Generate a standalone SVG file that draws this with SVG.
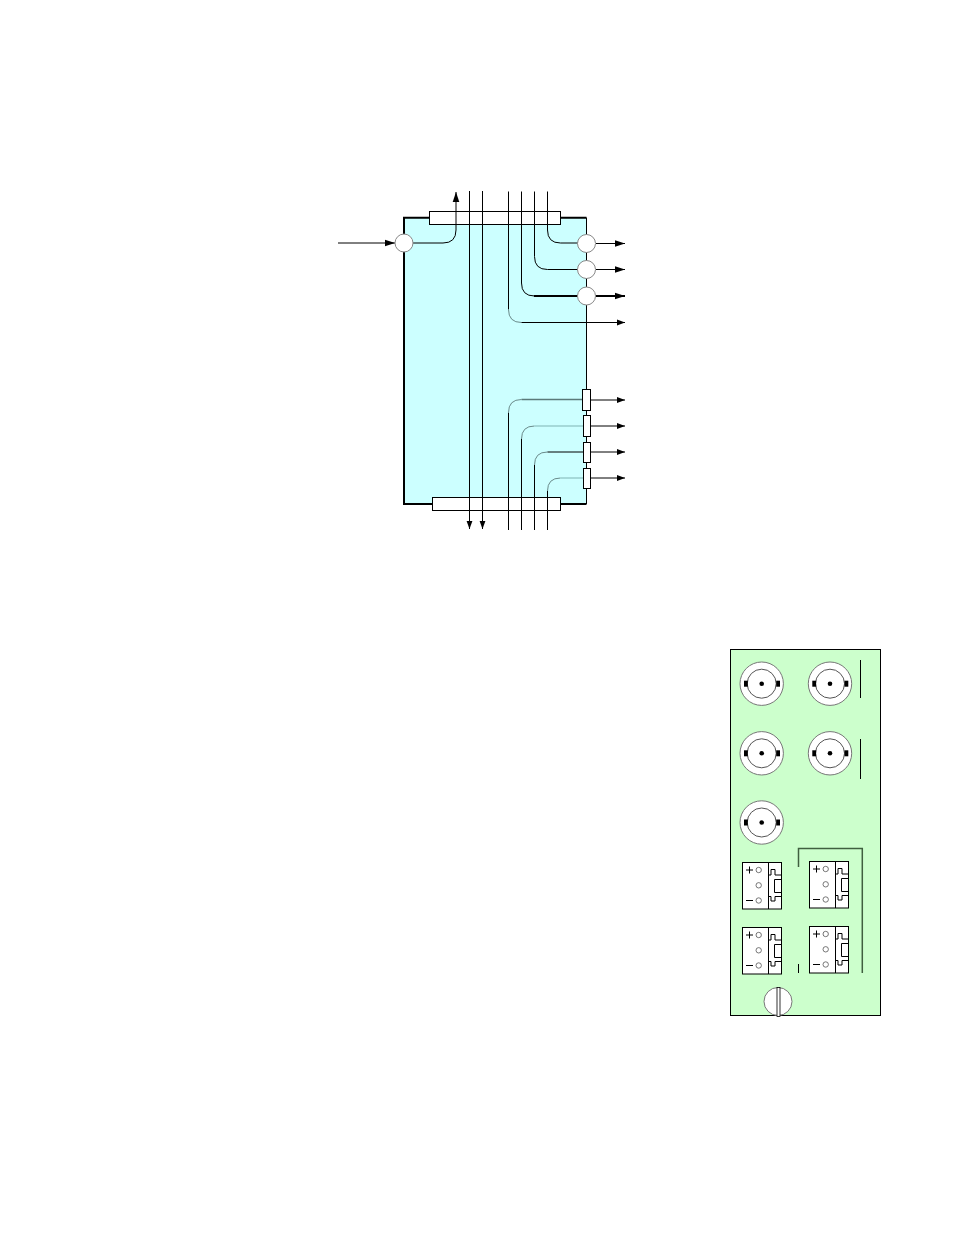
<svg xmlns="http://www.w3.org/2000/svg" width="954" height="1235" viewBox="0 0 954 1235">
<style>
.bg{fill:#fff}
.l{fill:none;stroke:#000;stroke-width:1}
.t{fill:none;stroke:#000;stroke-width:2}
.c{fill:none;stroke:#6a8a8a;stroke-width:1}
.d{fill:none;stroke:#5a7a7a;stroke-width:1.500}
.p{fill:none;stroke:#9cc;stroke-width:1.500}
.bar{fill:#fff;stroke:#000;stroke-width:1}
.port{fill:#fff;stroke:#888;stroke-width:1}
.dim{fill:none;stroke:#3f5f3f;stroke-width:1.500}
.th{fill:#fff;stroke:#555;stroke-width:.8}
</style>
<defs>
<marker id="big" markerUnits="userSpaceOnUse" markerWidth="11" markerHeight="8" refX="10" refY="4" orient="auto"><path d="M0 .7L10 4L0 7.300z" fill="#000"/></marker>
<marker id="sm" markerUnits="userSpaceOnUse" markerWidth="9" markerHeight="7" refX="8" refY="3.500" orient="auto"><path d="M0 .6L8 3.500L0 6.400z" fill="#000"/></marker>
<g id="bnc">
<circle r="21.700" fill="#fff" stroke="#777"/>
<circle r="14.500" fill="#fff" stroke="#555"/>
<circle r="2.300" fill="#000"/>
<rect x="-17.700" y="-3" width="3.800" height="6" fill="#000"/>
<rect x="14.500" y="-3" width="3.800" height="6" fill="#000"/>
</g>
<g id="term">
<rect x="0" y="0" width="39" height="46.500" fill="#fff" stroke="#000"/>
<path class="l" d="M26 0V46.500M26 12.500H28.500V7H32.500V12.500H39M26 34H28.500V38.500H32.500V34H39M32 17H39V30H32z"/>
<circle class="th" cx="16.200" cy="7.500" r="2.700"/>
<circle class="th" cx="16.200" cy="22.800" r="2.700"/>
<circle class="th" cx="16.200" cy="38" r="2.700"/>
<path class="l" d="M3.500 7.500H10.500M7 4V11M3.500 38H10.500"/>
</g>
</defs>
<rect class="bg" width="954" height="1235"/>
<g id="block"><path d="M404 504V217.700H586.500V504z" fill="#ccffff"/><path d="M430 217.700H404V504H433M560 217.700H586.500M560 504H586.500" fill="none" stroke="#000" stroke-width="2"/><path class="l" d="M586.500 217.700V504"/></g>
<g id="bar-top"><rect class="bar" x="429.500" y="211.500" width="131" height="13"/></g>
<g id="bar-bottom"><rect class="bar" x="432.500" y="497.500" width="128" height="13"/></g>
<g id="connectors">
<path class="l" d="M338 243H395" marker-end="url(#big)"/>
<path class="l" d="M413 243H443Q456 243 456 230V192" marker-end="url(#big)"/>
<path class="l" d="M469.500 191V529" marker-end="url(#sm)"/>
<path class="l" d="M482.500 191V529" marker-end="url(#sm)"/>
<path class="l" d="M547.500 191.500V230Q547.500 243 560.500 243H578"/>
<path class="l" d="M534.500 191.500V256.500Q534.500 269.500 547.500 269.500H578"/>
<path class="l" d="M521.500 191.500V283Q521.500 296 534.500 296"/>
<path class="t" d="M534 296H578"/>
<path class="l" d="M508.500 191.500V309.500"/>
<path class="c" d="M508.500 309.500Q508.500 322.500 521.500 322.500"/>
<path class="l" d="M521.500 322.500H625" marker-end="url(#sm)"/>
<path class="l" d="M596 243.500H625" marker-end="url(#big)"/>
<path class="l" d="M596 269.500H625" marker-end="url(#big)"/>
<path class="t" d="M596 296H625" marker-end="url(#big)"/>
<path class="l" d="M508.500 530V412.500"/>
<path class="c" d="M508.500 412.500Q508.500 399.500 521.500 399.500"/>
<path class="d" d="M521.500 399.500H583"/>
<path class="l" d="M521.500 530V439"/>
<path class="c" d="M521.500 439Q521.500 426 534.500 426"/>
<path class="p" d="M534.500 426H584"/>
<path class="l" d="M534.500 530V465"/>
<path class="c" d="M534.500 465Q534.500 452 547.500 452"/>
<path class="l" d="M547.500 452H584"/>
<path class="l" d="M547.500 530V491"/>
<path class="c" d="M547.500 491Q547.500 478 560.500 478"/>
<path class="p" d="M560.500 478H584"/>
<path class="l" d="M590 400H625" marker-end="url(#sm)"/>
<path class="l" d="M590 426H625" marker-end="url(#sm)"/>
<path class="l" d="M590 452H625" marker-end="url(#sm)"/>
<path class="l" d="M590 478H625" marker-end="url(#sm)"/>
</g>
<g id="port-in"><circle class="port" cx="404" cy="243" r="9"/></g>
<g id="port-1"><circle class="port" cx="586.500" cy="243.500" r="9"/></g>
<g id="port-2"><circle class="port" cx="586.500" cy="269.500" r="9"/></g>
<g id="port-3"><circle class="port" cx="586.500" cy="296" r="9"/></g>
<g id="res-1"><rect class="bar" x="582.500" y="389.500" width="8" height="21"/></g>
<g id="res-2"><rect class="bar" x="583.500" y="415.500" width="7" height="21"/></g>
<g id="res-3"><rect class="bar" x="583.500" y="442.500" width="7" height="20"/></g>
<g id="res-4"><rect class="bar" x="583.500" y="468.500" width="7" height="20"/></g>
<g id="panel"><rect x="730.500" y="649.500" width="150" height="366" fill="#ccffcc" stroke="#000"/></g>
<g id="bnc-1"><use href="#bnc" x="761.700" y="683.700"/></g>
<g id="bnc-2"><use href="#bnc" x="830" y="683.700"/></g>
<g id="bnc-3"><use href="#bnc" x="761.700" y="753.300"/></g>
<g id="bnc-4"><use href="#bnc" x="830" y="753.300"/></g>
<g id="bnc-5"><use href="#bnc" x="761.700" y="822.500"/></g>
<g id="term-1"><use href="#term" x="742.500" y="862.500"/></g>
<g id="term-2"><use href="#term" x="809.500" y="861.500"/></g>
<g id="term-3"><use href="#term" x="742.500" y="927.500"/></g>
<g id="term-4"><use href="#term" x="809.500" y="926.500"/></g>
<g id="brackets">
<path class="l" d="M860.500 660V698M860.500 739V779M798.500 964V973"/>
<path class="dim" d="M798.500 867V848.500H862.300V973"/>
</g>
<g id="screw"><circle cx="778" cy="1001.500" r="14" fill="#fff" stroke="#777"/><rect x="777" y="987.500" width="3" height="29" fill="#fff" stroke="#000" stroke-width=".8"/></g>
</svg>
